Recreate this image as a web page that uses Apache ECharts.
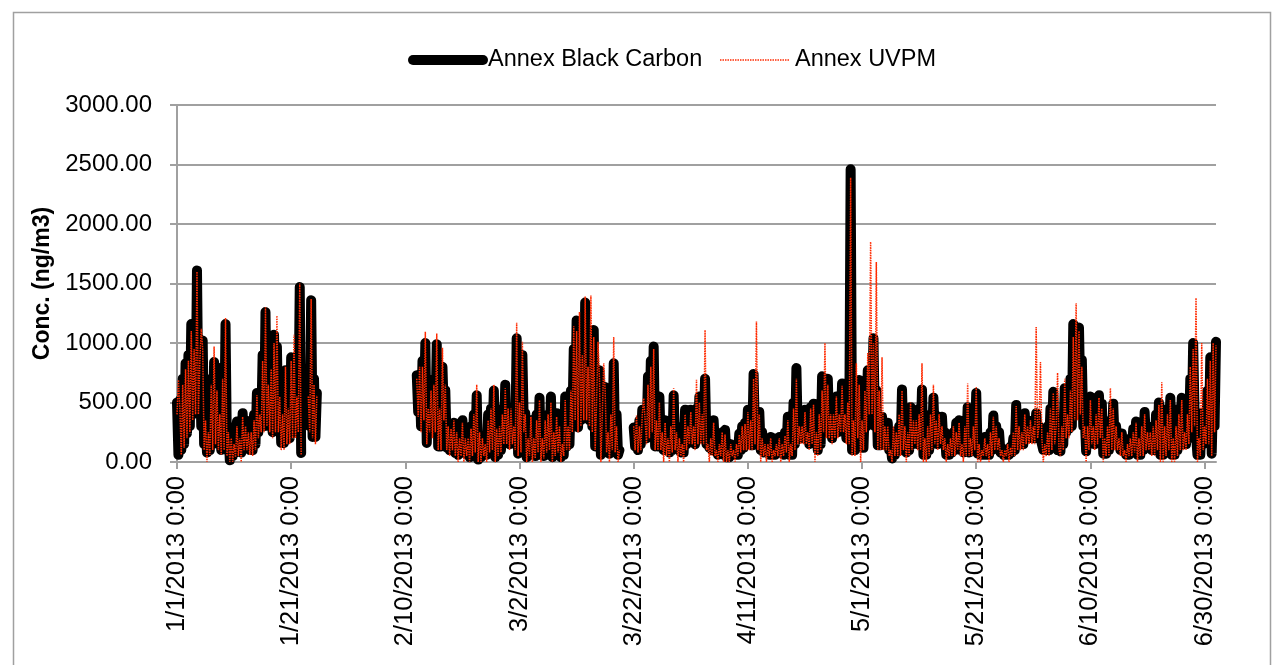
<!DOCTYPE html>
<html><head><meta charset="utf-8">
<script src="https://cdn.jsdelivr.net/npm/echarts@6/dist/echarts.min.js"></script>
<style>html,body{margin:0;padding:0;background:#fff}#c{width:1280px;height:665px}</style>
</head><body><div id="c"></div>
<script>
// Time is in days since 1/1/2013 0:00; readings are every 6 hours within each recorded segment.
const seriesNames = ['Annex Black Carbon', 'Annex UVPM'];
const xTickDays = [0, 20, 40, 60, 80, 100, 120, 140, 160, 180];
const xTickLabels = ['1/1/2013 0:00', '1/21/2013 0:00', '2/10/2013 0:00', '3/2/2013 0:00', '3/22/2013 0:00',
  '4/11/2013 0:00', '5/1/2013 0:00', '5/21/2013 0:00', '6/10/2013 0:00', '6/30/2013 0:00'];
const stepDays = 0.25;
const segmentStartDays = [0, 23, 42, 80];

// Annex Black Carbon (ng/m3), one array per recorded segment
const bcSeg1 = [
500,60, 520,100, 700,150, 830,240, 900,300, 1160,400, 1000,450, 1610,450, 900,300, 1020,150,
400,80, 300,100, 700,150, 840,200, 650,150, 450,100, 800,150, 1160,100, 300,15, 250,50,
200,80, 340,100, 250,80, 410,150, 350,150, 300,100, 280,100, 400,150, 580,250, 450,300,
900,300, 1260,350, 700,300, 770,250, 1070,300, 970,300, 600,160, 450,160, 770,200, 500,200,
880,250, 650,250, 600,300, 1470,75];
const bcSeg2 = [600,300, 1360,210, 700,210, 580];
const bcSeg3 = [
730,420, 700,300, 850,400, 1000,160, 500,300, 500,250, 700,300, 990,130, 500,130, 800,400,
600,120, 250,100, 250,120, 330,75, 200,60, 200,80, 350,100, 250,60, 150,40, 300,80,
400,100, 560,20, 200,40, 210,80, 150,60, 400,100, 450,150, 600,40, 200,60, 300,100,
450,200, 650,210, 350,150, 400,200, 300,150, 1040,70, 500,100, 900,300, 410,40, 250,60,
350,60, 200,50, 400,100, 540,60, 200,50, 300,100, 400,150, 550,40, 200,60, 410,100,
250,40, 200,60, 550,130, 350,150, 600,300, 950,400, 1190,290, 700,350, 1000,400, 1340,400,
800,350, 900,300, 1110,130, 500,150, 770,60, 350,80, 630,100, 300,70, 450,150, 830,100,
400,60, 100];
const bcSeg4 = [
290,130, 250,100, 350,150, 440,200, 400,200, 720,250, 850,300, 970,130, 400,130, 550,130,
300,100, 350,100, 250,80, 350,100, 560,130, 300,130, 210,80, 200,80, 440,150, 350,200,
440,200, 350,150, 450,200, 550,200, 450,190, 700,150, 200,120, 250,100, 350,100, 150,60,
200,80, 250,60, 270,40, 150,40, 150,60, 120,60, 150,60, 240,100, 300,120, 330,150,
440,150, 300,140, 740,200, 400,140, 420,100, 250,80, 150,80, 180,60, 210,60, 120,60,
200,80, 210,80, 180,60, 250,100, 380,60, 200,60, 500,150, 790,200, 350,200, 350,200,
440,200, 300,150, 460,200, 490,200, 300,100, 400,150, 720,300, 500,250, 700,270, 400,200,
450,250, 550,250, 450,300, 660,300, 400,200, 450,200, 2460,100, 400,100, 500,250, 690,120,
400,120, 500,300, 770,500, 700,500, 1040,300, 600,140, 300,140, 380,150, 300,150, 330,100,
150,30, 250,60, 250,100, 300,100, 610,150, 350,80, 300,100, 460,150, 400,200, 350,150,
450,150, 610,60, 200,60, 300,100, 400,150, 540,200, 300,150, 380,200, 380,150, 250,60,
150,60, 200,80, 250,100, 330,150, 350,100, 200,80, 350,100, 460,80, 250,100, 400,150,
580,70, 150,60, 150,60, 210,60, 150,60, 250,100, 390,150, 300,150, 250,80, 120,60,
100,60, 100,60, 130,80, 200,100, 480,150, 300,150, 250,150, 410,200, 350,200, 330,200,
350,200, 410,250, 300,200, 200,100, 150,100, 300,100, 450,150, 590,200, 250,100, 150,90,
350,150, 620,250, 450,280, 700,300, 1160,400, 800,400, 1130,500, 860,300, 400,90, 350,150,
550,200, 350,150, 450,200, 560,250, 490,70, 200,70, 300,100, 350,150, 490,150, 300,150,
200,100, 240,100, 150,60, 150,60, 200,80, 280,100, 340,60, 200,60, 250,100, 420,150,
300,150, 200,100, 250,100, 400,150, 500,60, 200,60, 300,100, 450,150, 540,60, 250,60,
300,100, 450,150, 540,150, 300,150, 400,200, 700,300, 1000,400, 400,60, 200,60, 410,150,
300,200, 600,200, 880,70, 600,300, 1010];

// Annex UVPM (ng/m3), same segments and times
const uvSeg1 = [
400,690, 450,60, 650,120, 780,200, 850,250, 1100,350, 950,400, 1600,400, 850,1120, 950,100,
350,0, 250,60, 650,100, 970,150, 600,100, 400,60, 700,100, 1210,50, 250,0, 200,0,
150,40, 300,50, 200,0, 380,100, 300,100, 250,60, 250,50, 350,100, 560,200, 400,250,
850,250, 1300,300, 650,250, 780,200, 1000,250, 1230,250, 550,100, 400,100, 800,150, 450,150,
850,200, 1070,200, 550,250, 1500,60];
const uvSeg2 = [550,250, 1370,200, 650,150, 560];
const uvSeg3 = [
700,380, 800,250, 800,350, 1095,150, 450,250, 600,200, 650,250, 1080,100, 450,100, 960,350,
650,100, 300,50, 280,100, 350,50, 250,0, 200,50, 330,0, 200,50, 200,0, 280,50,
400,80, 650,0, 250,0, 200,50, 150,0, 350,80, 450,100, 650,0, 280,50, 300,80,
400,150, 620,150, 450,100, 450,150, 300,100, 1170,50, 500,80, 1010,250, 400,0, 200,50,
380,0, 200,30, 350,80, 520,0, 200,30, 350,80, 400,100, 500,0, 250,50, 380,80,
300,0, 150,50, 520,100, 300,100, 600,250, 1140,350, 1100,250, 1260,300, 900,350, 1390,350,
800,300, 1400,250, 1050,100, 500,1010, 700,0, 400,830, 600,80, 250,0, 400,100, 1050,80,
300,0, 100];
const uvSeg4 = [
300,100, 390,80, 300,100, 400,535, 350,150, 650,200, 800,250, 950,100, 350,100, 500,100,
250,0, 330,50, 200,0, 300,80, 620,100, 250,0, 200,50, 150,0, 400,100, 300,150,
420,150, 300,100, 690,150, 500,150, 400,150, 1110,100, 150,0, 200,50, 330,50, 100,0,
150,50, 250,0, 230,0, 100,0, 150,50, 100,0, 150,50, 230,80, 300,100, 320,100,
420,100, 350,100, 700,150, 1180,100, 400,0, 200,50, 150,0, 150,50, 200,0, 100,50,
150,50, 200,0, 150,50, 220,80, 350,0, 150,50, 450,100, 700,150, 300,150, 300,150,
420,150, 250,100, 450,150, 480,0, 250,50, 400,100, 600,250, 1000,200, 650,200, 400,150,
400,200, 550,200, 400,250, 640,250, 400,150, 500,150, 2390,50, 350,50, 830,200, 650,0,
350,100, 600,250, 915,400, 1850,400, 1000,250, 1680,100, 600,100, 880,100, 300,100, 300,50,
100,0, 300,50, 250,50, 400,50, 600,100, 300,0, 250,50, 500,100, 350,150, 350,100,
400,100, 830,0, 200,0, 300,50, 400,100, 650,150, 350,100, 400,150, 300,100, 200,0,
150,50, 200,50, 300,50, 250,100, 330,50, 150,0, 300,50, 660,50, 200,50, 300,100,
630,0, 150,0, 100,50, 200,50, 150,0, 250,50, 380,100, 300,100, 200,50, 100,0,
100,50, 150,0, 120,50, 250,50, 470,100, 300,100, 250,100, 400,150, 300,150, 350,150,
300,150, 1135,200, 300,840, 200,0, 150,50, 250,50, 450,100, 580,150, 300,750, 100,50,
300,100, 700,200, 400,200, 600,250, 1050,350, 1335,350, 1100,400, 800,200, 300,0, 300,100,
520,150, 300,100, 400,150, 540,200, 450,0, 200,50, 300,50, 620,100, 450,100, 300,100,
200,50, 250,50, 100,0, 150,50, 200,50, 250,80, 330,0, 200,50, 300,50, 400,100,
250,100, 250,50, 300,50, 350,100, 480,0, 670,0, 300,50, 400,100, 520,0, 200,0,
300,50, 400,100, 520,100, 250,100, 400,150, 800,250, 950,300, 1380,0, 200,50, 1000,100,
300,150, 700,150, 850,50, 1000,250, 980];

function buildSeries(segments) {
  const out = [];
  segments.forEach((vals, s) => {
    const start = segmentStartDays[s];
    vals.forEach((v, i) => out.push([start + i * stepDays, v]));
    if (s < segments.length - 1) out.push([start + vals.length * stepDays, '-']);
  });
  return out;
}
const blackCarbon = buildSeries([bcSeg1, bcSeg2, bcSeg3, bcSeg4]);
const uvpm = buildSeries([uvSeg1, uvSeg2, uvSeg3, uvSeg4]);

const chart = echarts.init(document.getElementById('c'), null, { renderer: 'canvas' });
const FONT = 'Liberation Sans, Arial, sans-serif';
const axisGray = '#a0a0a0';
chart.setOption({
  animation: false,
  backgroundColor: '#ffffff',
  graphic: [{
    type: 'rect', left: 11, top: 10, shape: { width: 1257, height: 700 },
    style: { fill: 'none', stroke: '#a0a0a0', lineWidth: 1.5 }, silent: true, z: -1
  }],
  legend: {
    left: 403, top: 43,
    itemWidth: 70, itemHeight: 12, itemGap: 17,
    textStyle: { fontFamily: FONT, fontSize: 23.5, color: '#000' },
    lineStyle: { width: 'inherit' },
    itemStyle: { opacity: 0 },
    data: seriesNames
  },
  grid: { left: 177, right: 64, top: 105, bottom: 203, containLabel: false },
  xAxis: {
    type: 'value', min: 0, max: 182,
    axisLine: { show: true, onZero: false, lineStyle: { color: axisGray, width: 2 } },
    axisTick: { show: true, length: 7, customValues: xTickDays, lineStyle: { color: axisGray, width: 2 } },
    axisLabel: {
      customValues: xTickDays, rotate: 90, margin: 14,
      fontFamily: FONT, fontSize: 25.5, color: '#000',
      formatter: v => xTickLabels[xTickDays.indexOf(v)] || ''
    },
    splitLine: { show: false }
  },
  yAxis: {
    type: 'value', min: 0, max: 3000, interval: 500,
    name: 'Conc. (ng/m3)', nameLocation: 'middle', nameGap: 115, nameRotate: 90,
    nameTextStyle: { fontFamily: FONT, fontSize: 23, fontWeight: 'bold', color: '#000' },
    axisLine: { show: true, lineStyle: { color: axisGray, width: 2 } },
    axisTick: { show: true, length: 7, lineStyle: { color: axisGray, width: 2 } },
    axisLabel: { margin: 25, fontFamily: FONT, fontSize: 24, color: '#000', formatter: v => v.toFixed(2) },
    splitLine: { show: true, lineStyle: { color: axisGray, width: 2 } }
  },
  series: [
    {
      name: seriesNames[0], type: 'line', data: blackCarbon, showSymbol: false, symbol: 'none',
      clip: false, connectNulls: false,
      lineStyle: { color: '#000', width: 10, cap: 'round', join: 'round' },
      itemStyle: { color: '#000' }
    },
    {
      name: seriesNames[1], type: 'line', data: uvpm, showSymbol: false, symbol: 'none',
      clip: false, connectNulls: false,
      lineStyle: { color: '#ff2a00', width: 1.5, type: [1.5, 1] },
      itemStyle: { color: '#ff2a00' }
    }
  ]
});
</script>
</body></html>
